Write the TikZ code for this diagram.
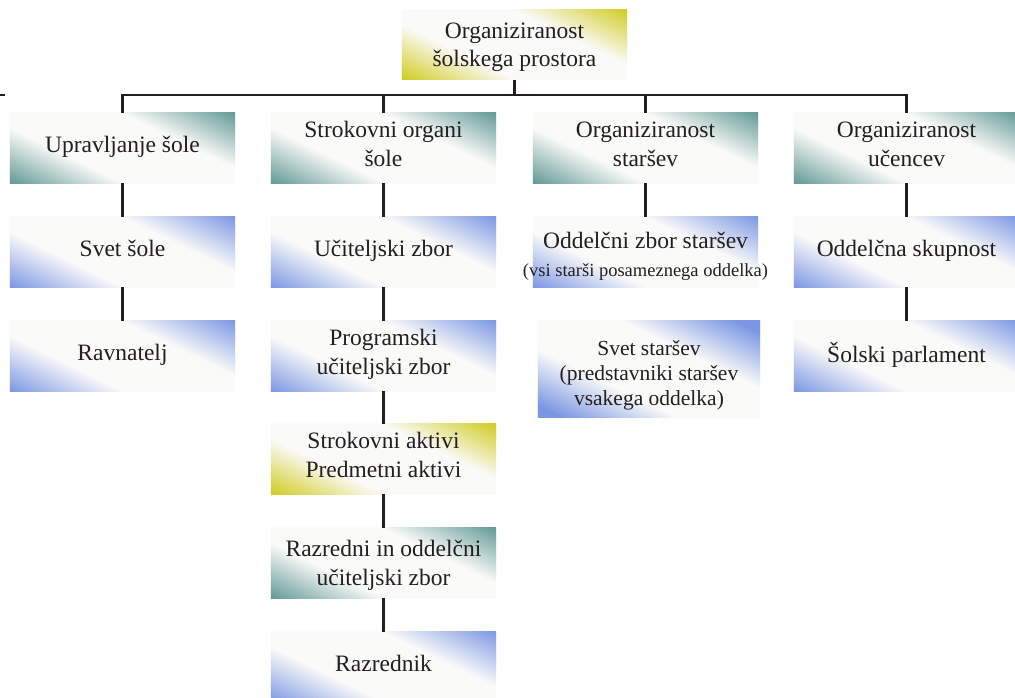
\documentclass[tikz,border=0pt]{standalone}
\usepackage{fontspec}
\setmainfont{Liberation Serif}
\usetikzlibrary{calc}
\definecolor{tealc}{RGB}{96,152,147}
\definecolor{bluec}{RGB}{122,150,228}
\definecolor{yelc}{RGB}{208,203,28}
\definecolor{wc}{RGB}{250,250,248}
\definecolor{linec}{RGB}{35,31,32}
\pgfdeclarelayer{bg}
\pgfsetlayers{bg,main}
\newcommand\gradbg[2]{%
  \begin{scope}
    \clip (#1.south west) rectangle (#1.north east);
    \foreach \d in {-130,-128,...,130}{%
      \pgfmathsetmacro\gp{min(100,max(0,(abs(\d+1)-31)/51*100))}%
      \pgfmathsetmacro\dd{\d+2.6}%
      \fill[#2!\gp!wc] ($(#1.center)+(-64:\d)+(26:170)$) -- ($(#1.center)+(-64:\d)+(206:170)$)
        -- ($(#1.center)+(-64:\dd)+(206:170)$) -- ($(#1.center)+(-64:\dd)+(26:170)$) -- cycle;
    }
  \end{scope}}
\tikzset{
  box/.style={minimum width=225pt, minimum height=70pt, inner sep=0pt, align=center,
    font=\fontsize{23.5}{28.5}\selectfont, text=linec, text depth=8pt},
  conn/.style={draw=linec, line width=2.5pt},
}
\begin{document}
\begin{tikzpicture}[x=1pt,y=-1pt]
\useasboundingbox (0,0) rectangle (1015,698);
\begin{scope}
\clip (0,0) rectangle (1015,698);
% top
\node[box, text depth=-5pt] (top) at (514.5,44.5) {Organiziranost\\šolskega prostora};
% row 1
\node[box] (u1) at (122.5,148) {Upravljanje šole};
\node[box] (u2) at (383.5,148) {Strokovni organi\\šole};
\node[box] (u3) at (645.5,148) {Organiziranost\\staršev};
\node[box] (u4) at (906.5,148) {Organiziranost\\učencev};
% row 2
\node[box] (s1) at (122.5,252) {Svet šole};
\node[box] (s2) at (383.5,252) {Učiteljski zbor};
\node[box, text depth=-7pt] (s3) at (645.5,252) {\rule{0pt}{21pt}Oddelčni zbor staršev\\[-1pt]\makebox[0pt]{\fontsize{18.5}{22}\selectfont(vsi starši posameznega oddelka)}};
\node[box] (s4) at (906.5,252) {Oddelčna skupnost};
% row 3
\node[box] (r1) at (122.5,356) {Ravnatelj};
\node[box] (r2) at (383.5,356) {Programski\\učiteljski zbor};
\node[box, minimum width=222pt, minimum height=96pt, font=\fontsize{21.5}{25}\selectfont, text depth=-7pt] (r3) at (649,369) {\rule{0pt}{22pt}Svet staršev\\(predstavniki staršev\\vsakega oddelka)};
\node[box] (r4) at (906.5,356) {Šolski parlament};
% column 2 continued
\node[box] (a2) at (383.5,459) {Strokovni aktivi\\Predmetni aktivi};
\node[box, text depth=-1pt] (z2) at (383.5,563) {Razredni in oddelčni\\učiteljski zbor};
\node[box] (k2) at (383.5,667) {Razrednik};
% gradient backgrounds
\begin{pgfonlayer}{bg}
\gradbg{top}{yelc}
\gradbg{u1}{tealc}\gradbg{u2}{tealc}\gradbg{u3}{tealc}\gradbg{u4}{tealc}
\gradbg{s1}{bluec}\gradbg{s2}{bluec}\gradbg{s3}{bluec}\gradbg{s4}{bluec}
\gradbg{r1}{bluec}\gradbg{r2}{bluec}\gradbg{r3}{bluec}\gradbg{r4}{bluec}
\gradbg{a2}{yelc}\gradbg{z2}{tealc}\gradbg{k2}{bluec}
\end{pgfonlayer}
% connectors
\coordinate (bus) at (0,95);
\draw[conn] (top.south) -- (top.south |- bus);
\draw[conn, line join=miter] (u1.north) -- (u1.north |- bus) -- (u4.north |- bus) -- (u4.north);
\draw[conn] (u2.north) -- (u2.north |- bus);
\draw[conn] (u3.north) -- (u3.north |- bus);
\draw[conn] (u1) -- (s1);
\draw[conn] (s1) -- (r1);
\draw[conn] (u2) -- (s2);
\draw[conn] (s2) -- (r2);
\draw[conn] (r2) -- (a2);
\draw[conn] (a2) -- (z2);
\draw[conn] (z2) -- (k2);
\draw[conn] (u3) -- (s3);
\draw[conn] (u4) -- (s4);
\draw[conn] (s4) -- (r4);
\coordinate (t1) at (0,95);
\coordinate (t2) at (5,95);
\draw[conn, line width=1.5pt] (t1) -- (t2);
\end{scope}
\end{tikzpicture}
\end{document}
